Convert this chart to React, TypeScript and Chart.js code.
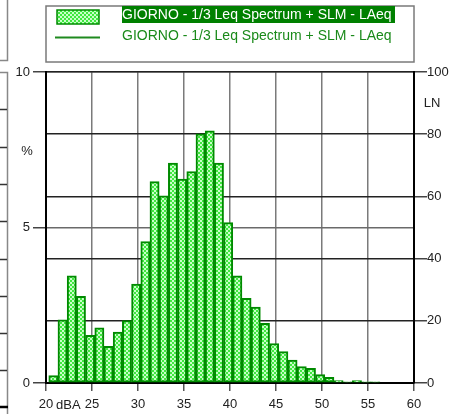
import React, { useEffect, useRef } from "react";
import { Chart, registerables } from "chart.js";

Chart.register(...registerables);

// Bin centres (dBA) and share of time (%)
const binCenters = [
  20.8, 21.8, 22.8, 23.8, 24.8, 25.8, 26.8, 27.8, 28.8, 29.8,
  30.8, 31.8, 32.8, 33.8, 34.8, 35.8, 36.8, 37.8, 38.8, 39.8,
  40.8, 41.8, 42.8, 43.8, 44.8, 45.8, 46.8, 47.8, 48.8, 49.8,
  50.8, 51.8, 52.8, 53.8, 54.8, 55.8,
];
const percentValues = [
  0.24, 2.03, 3.45, 2.79, 1.53, 1.77, 1.18, 1.64, 2.01, 3.18,
  4.55, 6.48, 6.02, 7.07, 6.56, 6.8, 8.01, 8.11, 7.07, 5.16,
  3.45, 2.72, 2.44, 1.92, 1.27, 1.01, 0.74, 0.53, 0.47, 0.27,
  0.18, 0.08, 0.04, 0.08, 0.04, 0.04,
];
const xTickStep = 5;
const yTickStep = 5;
const lnTickStep = 20;
const legendLabels = [
  "GIORNO - 1/3 Leq Spectrum + SLM - LAeq",
  "GIORNO - 1/3 Leq Spectrum + SLM - LAeq",
];
const xUnit = "dBA";
const yTitle = "%";
const y2Title = "LN";

const FONT = '"Liberation Sans", Arial, sans-serif';
const GREEN_DARK = "#008a00";

function makePattern(): CanvasPattern | string {
  const c = document.createElement("canvas");
  c.width = 4;
  c.height = 4;
  const g = c.getContext("2d");
  if (!g) return "#66ee66";
  g.fillStyle = "#3fe83f";
  g.fillRect(0, 0, 4, 4);
  g.fillStyle = "#c8ffc8";
  g.fillRect(0, 0, 2, 2);
  g.fillRect(2, 2, 2, 2);
  const p = g.createPattern(c, "repeat");
  return p || "#66ee66";
}

export default function App() {
  const ref = useRef<HTMLCanvasElement | null>(null);

  useEffect(() => {
    if (!ref.current) return;
    const pattern = makePattern();

    const decor = {
      id: "decor",
      afterDraw(chart: any) {
        const ctx = chart.ctx as CanvasRenderingContext2D;
        const area = chart.chartArea;
        ctx.save();
        // neighbouring frame fragments on the left edge
        ctx.strokeStyle = "#888";
        ctx.lineWidth = 1.5;
        ctx.beginPath();
        ctx.moveTo(7.5, 0);
        ctx.lineTo(7.5, 60.5);
        ctx.lineTo(0, 60.5);
        ctx.moveTo(0, 72.5);
        ctx.lineTo(7.5, 72.5);
        ctx.lineTo(7.5, 414);
        ctx.stroke();
        ctx.strokeStyle = "#333";
        ctx.beginPath();
        for (let i = 1; i < 9; i++) {
          const yy = Math.round(72 + i * 37.3) + 0.5;
          ctx.moveTo(0, yy);
          ctx.lineTo(7, yy);
        }
        ctx.stroke();
        ctx.strokeStyle = "#000";
        ctx.lineWidth = 2.5;
        ctx.beginPath();
        ctx.moveTo(0, 407);
        ctx.lineTo(8, 407);
        ctx.stroke();

        // legend box
        ctx.strokeStyle = "#7a7a7a";
        ctx.lineWidth = 1.5;
        ctx.strokeRect(area.left, 6, area.right - area.left, 56);
        // item 1: patterned rectangle + highlighted label
        ctx.fillStyle = pattern as any;
        ctx.fillRect(57, 10, 42, 14);
        ctx.strokeStyle = GREEN_DARK;
        ctx.lineWidth = 1.5;
        ctx.strokeRect(57, 10, 42, 14);
        ctx.font = "14px " + FONT;
        ctx.textBaseline = "middle";
        ctx.textAlign = "left";
        const w = ctx.measureText(legendLabels[0]).width;
        ctx.fillStyle = "#008000";
        ctx.fillRect(122, 6, Math.max(w + 2, 273), 17);
        ctx.fillStyle = "#ffffff";
        ctx.fillText(legendLabels[0], 122, 15);
        // item 2: line + label
        ctx.strokeStyle = "#1f8a1f";
        ctx.lineWidth = 2;
        ctx.beginPath();
        ctx.moveTo(55, 37.5);
        ctx.lineTo(100, 37.5);
        ctx.stroke();
        ctx.fillStyle = "#1a8a1a";
        ctx.fillText(legendLabels[1], 122, 36);

        // axis titles
        ctx.font = "13px " + FONT;
        ctx.fillStyle = "#222";
        ctx.textAlign = "center";
        ctx.fillText(yTitle, 27, 151);
        ctx.fillText(y2Title, 432, 103);
        ctx.textAlign = "left";
        const xs = chart.scales.x;
        const x0 = xs.getPixelForValue(xs.min);
        ctx.fillText(xUnit, x0 + 10, 405);
        ctx.restore();
      },
    };

    const chart = new Chart(ref.current, {
      type: "bar",
      data: {
        datasets: [
          {
            label: legendLabels[0],
            data: binCenters.map((x, i) => ({ x, y: percentValues[i] })),
            backgroundColor: pattern as any,
            borderColor: GREEN_DARK,
            borderWidth: 2,
            borderSkipped: false,
            barPercentage: 1,
            categoryPercentage: 1,
            xAxisID: "x",
            yAxisID: "y",
          } as any,
        ],
      },
      plugins: [decor],
      options: {
        animation: false,
        responsive: false,
        maintainAspectRatio: false,
        layout: { padding: { top: 72, left: 0, right: 0, bottom: 0 } },
        plugins: { legend: { display: false }, tooltip: { enabled: false } },
        scales: {
          x: {
            type: "linear",
            position: "bottom",
            min: 20,
            max: 60,
            offset: false,
            afterFit: (s: any) => {
              s.height = 31;
            },
            ticks: {
              stepSize: xTickStep,
              color: "#222",
              font: { family: FONT, size: 13 },
              padding: 6,
              maxRotation: 0,
            },
            grid: {
              color: "#7a7a7a",
              lineWidth: 1.5,
              tickLength: 8,
              tickColor: "#555",
              offset: false,
            },
            border: { display: true, color: "#000", width: 2 },
          },
          y: {
            type: "linear",
            position: "left",
            min: 0,
            max: 10,
            afterFit: (s: any) => {
              s.width = 46;
            },
            ticks: {
              stepSize: yTickStep,
              color: "#222",
              font: { family: FONT, size: 13 },
              padding: 3,
            },
            grid: {
              color: "#6a6a6a",
              lineWidth: 1.5,
              tickLength: 13,
              tickColor: "#444",
            },
            border: { display: true, color: "#000", width: 2 },
          },
          y2: {
            type: "linear",
            position: "right",
            min: 0,
            max: 100,
            afterFit: (s: any) => {
              s.width = 41;
            },
            ticks: {
              stepSize: lnTickStep,
              color: "#222",
              font: { family: FONT, size: 13 },
              padding: 0,
            },
            grid: {
              color: "#222",
              lineWidth: 1.5,
              tickLength: 13,
              tickColor: "#444",
            },
            border: { display: true, color: "#000", width: 2 },
          },
        },
      } as any,
    });
    return () => chart.destroy();
  }, []);

  return (
    <div
      style={{
        position: "fixed",
        left: 0,
        top: 0,
        width: 455,
        height: 414,
        background: "#fff",
      }}
    >
      <canvas ref={ref} width={455} height={414} style={{ display: "block" }} />
    </div>
  );
}
